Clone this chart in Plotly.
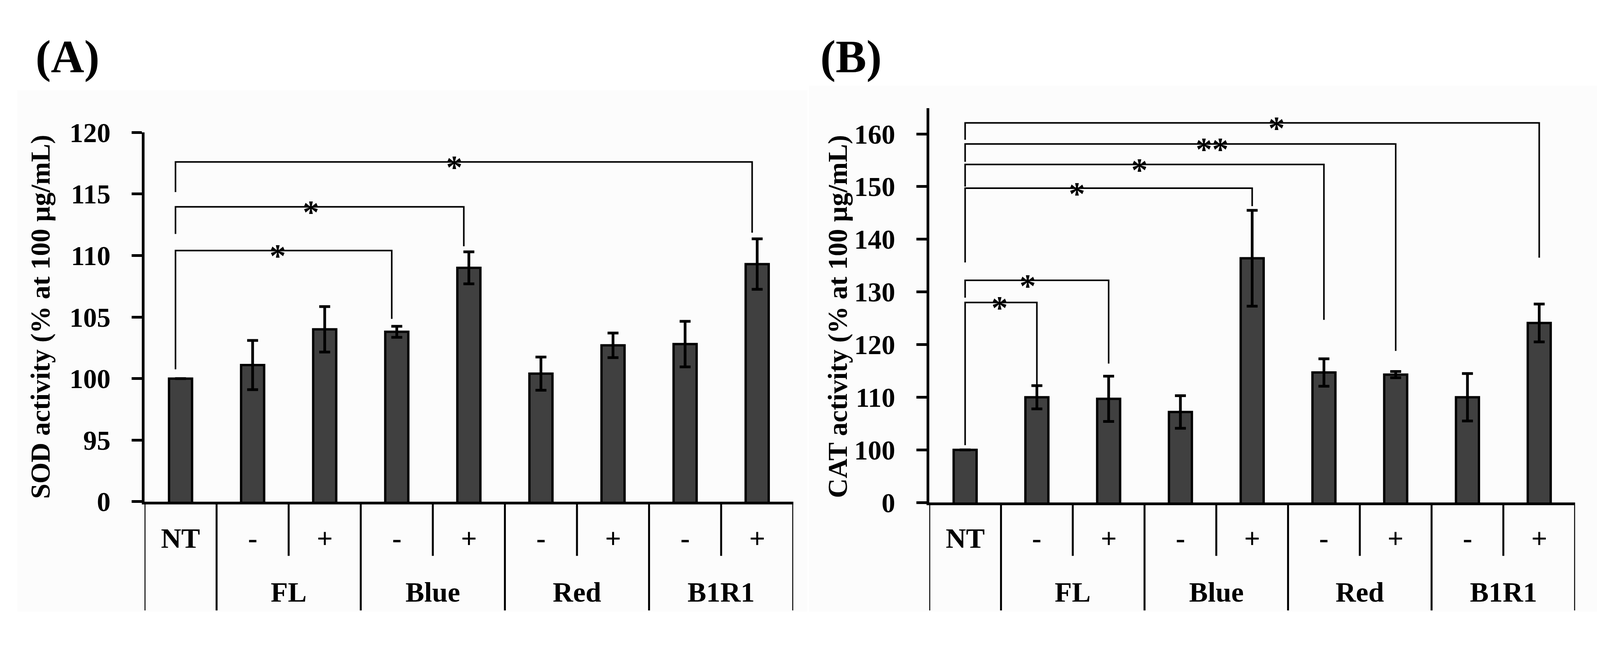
import plotly.graph_objects as go

W, H = 4464, 1670

# categories (table under the bars)
groups = ["NT", "FL", "FL", "Blue", "Blue", "Red", "Red", "B1R1", "B1R1"]
light = ["NT", "-", "+", "-", "+", "-", "+", "-", "+"]
group_names = ["FL", "Blue", "Red", "B1R1"]

# SOD activity (% at 100 ug/mL)
sod_mean = [100.0, 101.1, 104.0, 103.8, 109.0, 100.4, 102.7, 102.8, 109.3]
sod_err = [None, 2.0, 1.85, 0.45, 1.3, 1.35, 1.0, 1.85, 2.05]
sod_ticks = [90, 95, 100, 105, 110, 115, 120]
sod_ticktext = ["0", "95", "100", "105", "110", "115", "120"]

# CAT activity (% at 100 ug/mL)
cat_mean = [100.0, 110.0, 109.7, 107.2, 136.4, 114.7, 114.3, 110.0, 124.1]
cat_err = [None, 2.2, 4.3, 3.1, 9.1, 2.6, 0.6, 4.5, 3.6]
cat_ticks = [90, 100, 110, 120, 130, 140, 150, 160]
cat_ticktext = ["0", "100", "110", "120", "130", "140", "150", "160"]

# significance brackets: (from, to, bar height, left leg end, right leg end, label, label x)
sod_brackets = [
    (0, 3, 110.4, 100.75, 104.85, "*", 1.35),
    (0, 4, 113.95, 111.75, 110.75, "*", 1.81),
    (0, 8, 117.6, 115.15, 111.85, "*", 3.80),
]
cat_brackets = [
    (0, 1, 128.0, 100.9, 112.2, "*", 0.48),
    (0, 2, 132.2, 128.9, 116.4, "*", 0.87),
    (0, 4, 149.7, 135.6, 146.3, "*", 1.56),
    (0, 5, 154.2, 150.0, 124.7, "*", 2.43),
    (0, 6, 158.1, 154.7, 118.8, "**", 3.44),
    (0, 8, 162.1, 158.9, 136.5, "*", 4.34),
]

FONT = "Liberation Serif"
x_idx = list(range(len(groups)))


def px_x(p):
    return p / W


def px_y(p):
    return 1 - p / H


fig = go.Figure()

panels = [
    dict(xa="x", ya="y", mean=sod_mean, err=sod_err, brackets=sod_brackets, leg_shift=-0.07,
         xdom=(396, 2213), ydom=(1313, 311.5), yrange=[90, 120],
         ticks=sod_ticks, ticktext=sod_ticktext,
         title="SOD activity (% at 100 µg/mL)", title_x=105, letter="(A)", letter_x=180,
         bg=(40, 197, 2252, 1611)),
    dict(xa="x2", ya="y2", mean=cat_mean, err=cat_err, brackets=cat_brackets, leg_shift=0.0,
         xdom=(2594, 4403), ydom=(1315.5, 245.7), yrange=[90, 164.9],
         ticks=cat_ticks, ticktext=cat_ticktext,
         title="CAT activity (% at 100 µg/mL)", title_x=2338, letter="(B)", letter_x=2375,
         bg=(2257, 185, 4464, 1611)),
]

shapes = []
annotations = []

for k, p in enumerate(panels):
    sfx = "" if k == 0 else "2"

    # faint panel background
    x0, y0, x1, y1 = p["bg"]
    shapes.append(dict(type="rect", xref="paper", yref="paper", layer="below",
                       x0=px_x(x0), x1=px_x(x1), y0=px_y(y1), y1=px_y(y0),
                       fillcolor="#FCFCFC", line=dict(width=0)))

    fig.add_trace(go.Bar(
        x=x_idx, y=p["mean"], xaxis=p["xa"], yaxis=p["ya"], width=0.32,
        marker=dict(color="#404040", line=dict(color="black", width=6)),
        error_y=dict(type="data", array=p["err"], visible=True,
                     color="black", thickness=7, width=14),
        showlegend=False,
    ))

    fig.update_layout(**{
        "xaxis" + sfx: dict(domain=[px_x(p["xdom"][0]), px_x(p["xdom"][1])],
                            range=[-0.5, 8.5], anchor="y" + sfx,
                            showticklabels=False, ticks="", showgrid=False, zeroline=False,
                            showline=True, linecolor="black", linewidth=7),
        "yaxis" + sfx: dict(domain=[px_y(p["ydom"][0]), px_y(p["ydom"][1])],
                            range=p["yrange"], anchor="x" + sfx,
                            tickvals=p["ticks"], ticktext=p["ticktext"],
                            ticks="outside", ticklen=26, tickwidth=7, tickcolor="black",
                            ticklabelstandoff=40,
                            tickfont=dict(family=FONT, size=70, color="black", weight="bold"),
                            showgrid=False, zeroline=False,
                            showline=True, linecolor="black", linewidth=7),
    })

    # brackets and stars
    for a, b, h, l_end, r_end, star, sx in p["brackets"]:
        xa_, xb_ = a + p["leg_shift"], b + p["leg_shift"]
        shapes.append(dict(type="path", xref=p["xa"], yref=p["ya"],
                           path=f"M {xa_},{l_end} L {xa_},{h} L {xb_},{h} L {xb_},{r_end}",
                           line=dict(color="black", width=4)))
        annotations.append(dict(x=sx, y=h, xref=p["xa"], yref=p["ya"], text=star,
                                showarrow=False, yanchor="middle", yshift=-14,
                                font=dict(family=FONT, size=84, color="black", weight="bold")))

    # table under the axis
    y_top = px_y(p["ydom"][0])
    for e in range(len(groups) + 1):
        xe = e - 0.5
        short = e in (2, 4, 6, 8)
        shapes.append(dict(type="line", xref=p["xa"], yref="paper",
                           x0=xe, x1=xe, y0=y_top, y1=px_y(1460 if short else 1608),
                           line=dict(color="black", width=5)))
    for i, lab in enumerate(light):
        annotations.append(dict(x=i, y=px_y(1413), xref=p["xa"], yref="paper", text=lab,
                                showarrow=False, yanchor="middle",
                                font=dict(family=FONT, size=72, color="black", weight="bold")))
    for j, g in enumerate(group_names):
        annotations.append(dict(x=1.5 + 2 * j, y=px_y(1559), xref=p["xa"], yref="paper", text=g,
                                showarrow=False, yanchor="middle",
                                font=dict(family=FONT, size=72, color="black", weight="bold")))

    # y-axis title and panel letter
    annotations.append(dict(x=px_x(p["title_x"]), y=px_y(811), xref="paper", yref="paper",
                            text=p["title"], textangle=-90, showarrow=False,
                            xanchor="center", yanchor="middle",
                            font=dict(family=FONT, size=70, color="black", weight="bold")))
    annotations.append(dict(x=px_x(p["letter_x"]), y=px_y(106), xref="paper", yref="paper",
                            text=p["letter"], showarrow=False,
                            xanchor="center", yanchor="middle",
                            font=dict(family=FONT, size=118, color="black", weight="bold")))

# no fixed width/height: the figure fills the browser window
fig.update_layout(
    autosize=True,
    margin=dict(l=0, r=0, t=0, b=0),
    paper_bgcolor="white", plot_bgcolor="rgba(0,0,0,0)",
    shapes=shapes, annotations=annotations,
    bargap=0.68, showlegend=False,
)

fig.write_html("out.html")
